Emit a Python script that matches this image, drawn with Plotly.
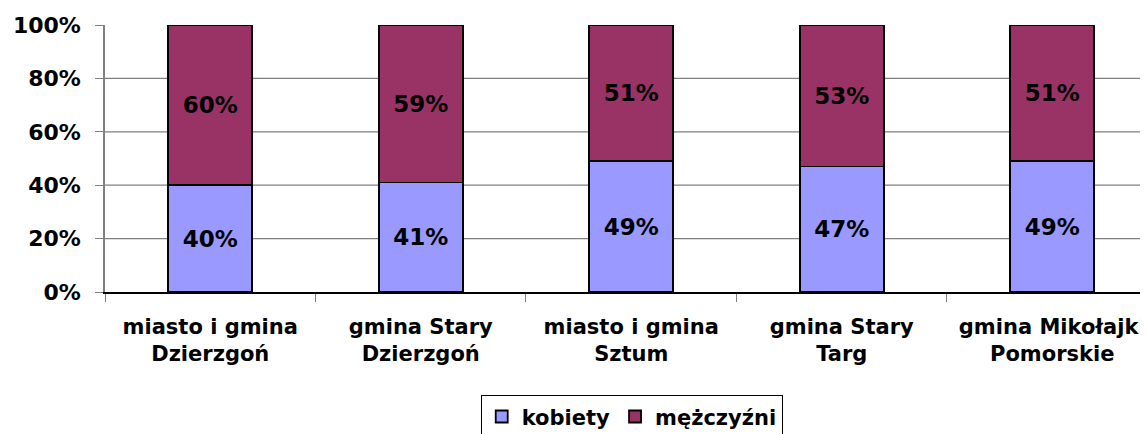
import plotly.graph_objects as go

categories = ["miasto i gmina<br>Dzierzgoń", "gmina Stary<br>Dzierzgoń", "miasto i gmina<br>Sztum",
              "gmina Stary<br>Targ", "gmina Mikołajki<br>Pomorskie"]
kobiety = [40, 41, 49, 47, 49]
mezczyzni = [60, 59, 51, 53, 51]
y_ticks = [0, 20, 40, 60, 80, 100]
y_tick_labels = ["0%", "20%", "40%", "60%", "80%", "100%"]
grid_vals = [20, 40, 60, 80]

FONT = "DejaVu Sans"
fig = go.Figure()
for name, vals, col in [("kobiety", kobiety, "#9999FF"), ("mężczyźni", mezczyzni, "#993366")]:
    fig.add_trace(go.Bar(
        x=categories, y=vals, name=name,
        marker=dict(color=col, line=dict(color="black", width=1.8)),
        width=0.4,
        text=[f"{v}%" for v in vals], textposition="inside", insidetextanchor="middle",
        textfont=dict(family=FONT, size=23, color="black", weight="bold"),
        textangle=0,
    ))

for g in grid_vals:
    fig.add_shape(type="line", xref="paper", yref="y", x0=0, x1=1, y0=g, y1=g,
                  line=dict(color="#808080", width=1.2), layer="below")

fig.update_layout(
    barmode="stack",
    width=1140, height=426,
    margin=dict(l=97, r=0, t=17, b=142, autoexpand=False),
    paper_bgcolor="white", plot_bgcolor="white",
    font=dict(family=FONT, size=21, color="black", weight="bold"),
    uniformtext=dict(minsize=8, mode="show"),
    legend=dict(orientation="h", x=0.505, xanchor="center", y=-0.387, yanchor="top",
                bordercolor="black", borderwidth=1, bgcolor="white",
                font=dict(family=FONT, size=21, color="black", weight="bold"),
                itemwidth=30, traceorder="normal"),
    xaxis=dict(type="category", range=[-0.5, 4.455], showgrid=False, showline=True,
               linecolor="black", linewidth=1.5,
               ticks="outside", tickson="boundaries", ticklen=8, tickcolor="#808080",
               ticklabelstandoff=15,
               tickfont=dict(family=FONT, size=21, color="black", weight="bold")),
    yaxis=dict(range=[0, 100], tickmode="array", tickvals=y_ticks, ticktext=y_tick_labels,
               showgrid=False, showline=True, linecolor="#808080", linewidth=1.5, zeroline=False,
               ticks="outside", ticklen=8, tickcolor="#808080", ticklabelstandoff=10,
               tickfont=dict(family=FONT, size=22, color="black", weight="bold")),
)

fig.write_html("out.html")
